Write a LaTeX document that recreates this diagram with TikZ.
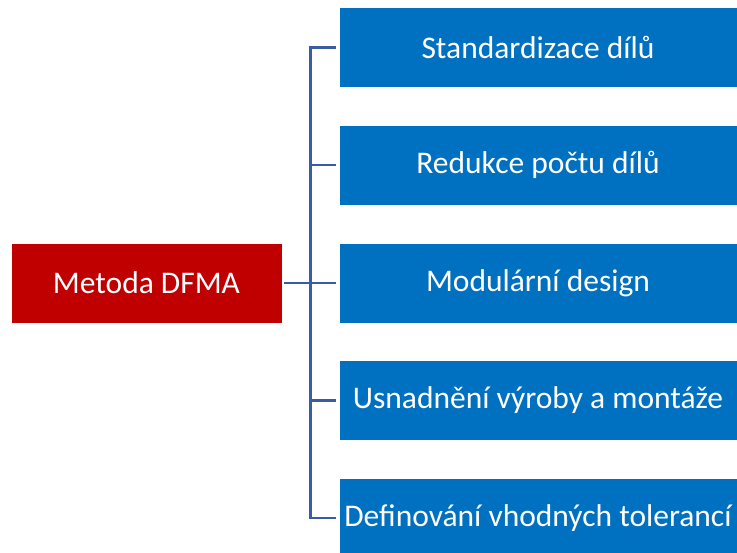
\documentclass[tikz,border=0pt]{standalone}
\usepackage{fontspec}
\setmainfont{Carlito}
\definecolor{rootred}{RGB}{192,0,0}
\definecolor{itemblue}{RGB}{0,112,192}
\definecolor{linkblue}{RGB}{59,91,165}
\tikzset{
  rootbox/.style={fill=rootred, draw=white, line width=0.8pt, text=white,
    minimum width=271pt, minimum height=80pt, inner sep=0pt,
    font=\fontsize{31.5}{36}\selectfont},
  itembox/.style={fill=itemblue, draw=white, line width=0.8pt, text=white,
    minimum width=398pt, minimum height=80pt, inner sep=0pt,
    font=\fontsize{31.5}{36}\selectfont},
  conn/.style={draw=linkblue, line width=2.6pt}
}
\begin{document}
\begin{tikzpicture}[x=1pt,y=-1pt]
  \useasboundingbox (0,0) rectangle (737,553);
  \clip (0,0) rectangle (737,553);

  % root node
  \node[rootbox] (root) at (146.5,283) {Metoda DFMA};

  % right-hand items
  \node[itembox] (b1) at (538,47.5)  {Standardizace dílů};
  \node[itembox] (b2) at (538,165)   {Redukce počtu dílů};
  \node[itembox] (b3) at (538,283)   {Modulární design};
  \node[itembox] (b4) at (538,400.5) {Usnadnění výroby a montáže};
  \node[itembox] (b5) at (538,518)   {Definování vhodných tolerancí};

  % vertical trunk of the bracket
  \coordinate (tr) at (310.5,283);
  \draw[conn] ([xshift=-3pt]b1.west) -| (tr) |- ([xshift=-3pt]b5.west);
  \foreach \b in {b2,b4}
    \draw[conn] (\b.west -| tr) -- ([xshift=-3pt]\b.west);
  \draw[conn] ([xshift=2pt]root.east) -- ([xshift=-3pt]b3.west);
\end{tikzpicture}
\end{document}
